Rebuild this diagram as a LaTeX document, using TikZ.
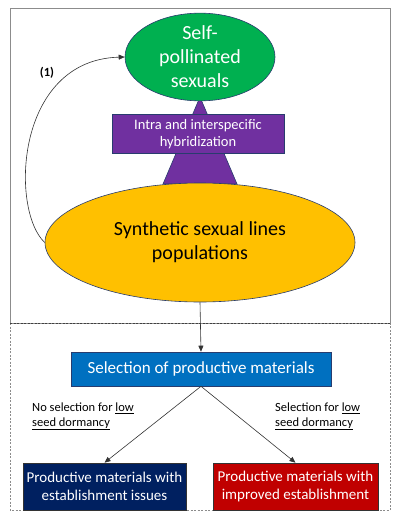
\documentclass[tikz,border=0pt]{standalone}
\usepackage{fontspec}
\setmainfont{Carlito}
\usetikzlibrary{shapes.geometric,arrows.meta,positioning}
\usepackage{xcolor}
\definecolor{selfgreen}{RGB}{0,176,80}
\definecolor{hybpurple}{RGB}{112,48,160}
\definecolor{synyellow}{RGB}{255,192,0}
\definecolor{selblue}{RGB}{0,112,192}
\definecolor{issnavy}{RGB}{0,32,96}
\definecolor{impred}{RGB}{192,0,0}
\definecolor{edgeblue}{RGB}{40,60,110}

\begin{document}
\begin{tikzpicture}[x=1pt,y=-1pt,
  blob/.style={ellipse,draw=edgeblue,semithick,inner sep=0pt,align=center},
  panel/.style={rectangle,draw=edgeblue,semithick,inner sep=0pt,align=center,text=white},
  link/.style={-{Triangle[length=6pt,width=5pt]},draw=black!80,semithick},
  note/.style={inner sep=0pt,align=left,anchor=north west,font=\fontsize{12.5}{14.3}\selectfont}
]
  \useasboundingbox (0,0) rectangle (400,519);

  % Frames
  \draw[black!45] (10,8) rectangle (390,323);
  \draw[black!45,dash pattern=on 2pt off 1.5pt] (10,323) -- (10,510) -- (390,510) -- (390,323);
  \draw[black!75,dash pattern=on 2pt off 1.5pt] (10,323) -- (390,323);

  % Hybridization cone
  \draw[edgeblue,semithick,fill=hybpurple] (200,97) -- (237,184) -- (163,184) -- cycle;

  % Populations
  \node[blob,fill=selfgreen,text=white,minimum width=150,minimum height=79,
        font=\fontsize{20}{24}\selectfont] (self) at (200,57) {Self-\\pollinated\\sexuals};
  \node[blob,fill=synyellow,minimum width=310,minimum height=119,
        font=\fontsize{20}{24}\selectfont] (syn) at (200,242.5) {Synthetic sexual lines\\populations};
  \node[panel,fill=hybpurple,minimum width=172,minimum height=39,
        font=\fontsize{14.5}{17}\selectfont] (hyb) at (198,134) {Intra and interspecific\\hybridization};

  % Selection
  \node[panel,fill=selblue,minimum width=260,minimum height=34,
        font=\fontsize{17}{20}\selectfont] (sel) at (201,369) {Selection of productive materials};
  \node[panel,fill=issnavy,draw=black!80,minimum width=163,minimum height=47,
        font=\fontsize{15}{17.7}\selectfont] (iss) at (104.5,486.5) {Productive materials with\\establishment issues};
  \node[panel,fill=impred,draw=black!80,minimum width=165,minimum height=47,
        font=\fontsize{15}{17.7}\selectfont] (imp) at (295.5,486.5) {Productive materials with\\improved establishment};

  % Labels
  \node[note] (nosel) at (32,403) {No selection for \underline{low}\\\underline{seed dormancy}};
  \node[note] (yessel) at (275,403) {Selection for \underline{low}\\\underline{seed dormancy}};
  \node[inner sep=0pt,font=\fontsize{12.5}{14}\selectfont\bfseries] (loop) at (47,73) {(1)};

  % Connectors
  \draw[link] (syn.west) .. controls (10,210) and (15,60) .. (self.west);
  \draw[link] (syn.south) -- (sel.north);
  \draw[link] (sel.south) -- (iss.north);
  \draw[link] (sel.south) -- (imp.north);
\end{tikzpicture}
\end{document}
